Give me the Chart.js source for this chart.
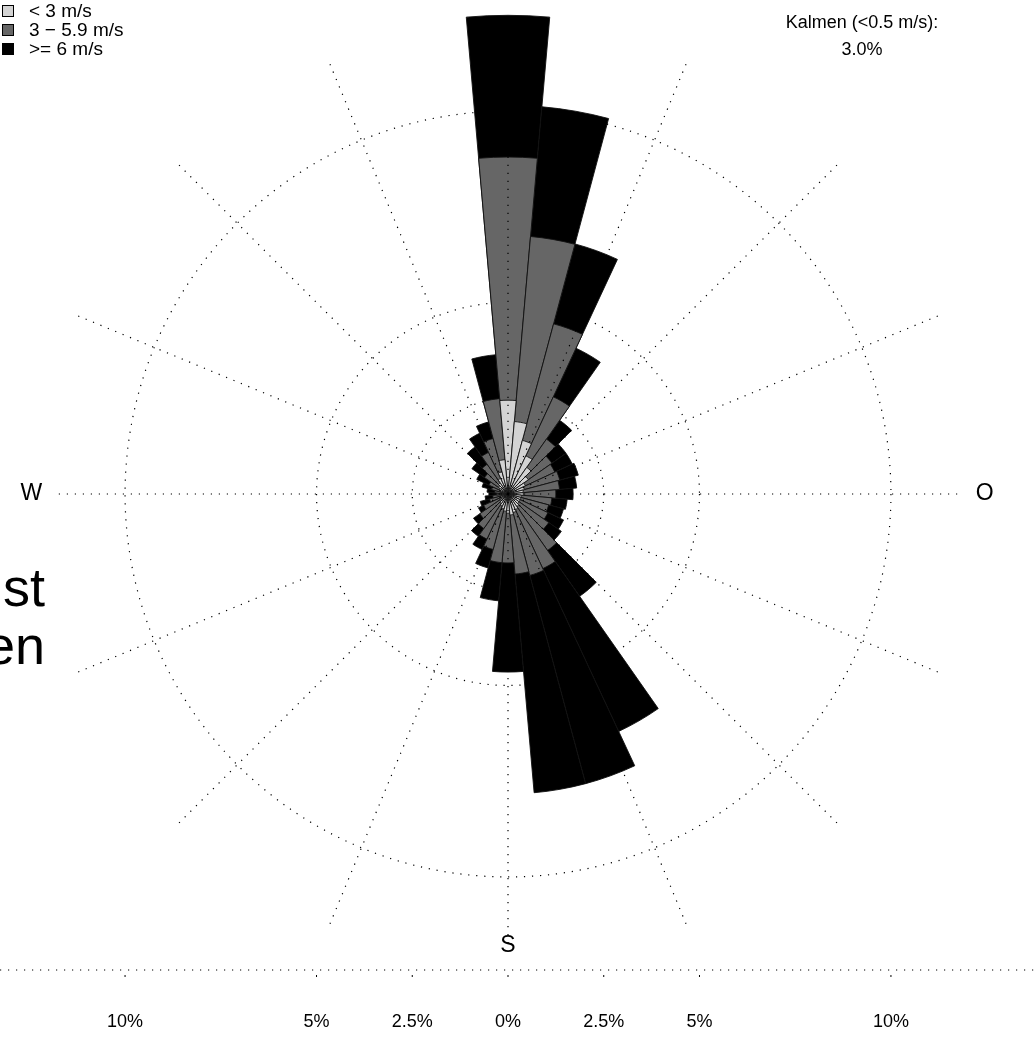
<!DOCTYPE html>
<html>
<head>
<meta charset="utf-8">
<script src="https://cdn.jsdelivr.net/npm/chart.js@4.4.1/dist/chart.umd.min.js"></script>
<style>
  html, body { margin: 0; padding: 0; background: #fff; }
  body { width: 1036px; height: 1060px; position: relative; overflow: hidden; font-family: "Liberation Sans", Arial, sans-serif; color: #000; }
  #wrap { position: absolute; left: 0; top: 0; width: 1036px; height: 1060px; }
  .legend { position: absolute; left: 2px; top: 1px; font-size: 19px; line-height: 19px; }
  .legend .row { display: flex; align-items: center; height: 19px; white-space: pre; }
  .legend .sw { width: 10px; height: 10px; border: 1px solid #000; margin-right: 15px; }
  .calm { position: absolute; left: 742px; width: 240px; top: 9px; text-align: center; font-size: 18px; line-height: 27px; }
  .big { position: absolute; left: -255px; width: 300px; top: 558px; text-align: right; font-size: 54px; line-height: 58px; white-space: pre; }
</style>
</head>
<body>
<div id="wrap"><canvas id="rose"></canvas></div>
<div class="legend" id="legend"></div>
<div class="calm" id="calm"></div>
<div class="big">st
en</div>
<script>
// wind direction sectors, 10 degree wide
const directions = [0, 10, 20, 30, 40, 50, 60, 70, 80, 90, 100, 110, 120, 130, 140, 150, 160, 170,
                    180, 190, 200, 210, 220, 230, 240, 250, 260, 270, 280, 290, 300, 310, 320, 330, 340, 350];

// frequency in % per speed class
const lowSpeed  = [2.45, 1.9, 1.45, 1.1, 0.85, 0.65, 0.5, 0.45, 0.4, 0.4, 0.35, 0.35, 0.35, 0.35, 0.4, 0.45, 0.5, 0.55,
                   0.5, 0.45, 0.4, 0.35, 0.3, 0.25, 0.2, 0.2, 0.15, 0.15, 0.15, 0.2, 0.25, 0.3, 0.35, 0.45, 0.6, 0.9];
const midSpeed  = [6.35, 4.85, 3.15, 1.7, 0.9, 0.75, 0.85, 0.95, 0.95, 0.85, 0.8, 0.75, 0.8, 0.95, 1.4, 1.7, 1.7, 1.55,
                   1.3, 1.35, 1.1, 0.95, 0.8, 0.65, 0.5, 0.3, 0.25, 0.15, 0.2, 0.25, 0.3, 0.45, 0.6, 0.75, 0.9, 1.6];
const highSpeed = [3.7, 3.4, 2.16, 1.4, 0.6, 0.45, 0.5, 0.5, 0.45, 0.45, 0.4, 0.4, 0.45, 0.4, 1.46, 4.69, 5.63, 5.73,
                   2.85, 1.0, 0.5, 0.3, 0.25, 0.2, 0.15, 0.25, 0.2, 0.2, 0.2, 0.25, 0.35, 0.4, 0.55, 0.55, 0.45, 1.15];

const speedClasses = ['< 3 m/s', '3 \u2212 5.9 m/s', '>= 6 m/s'];
const classColors = ['#d3d3d3', '#666666', '#000000'];

const ringTicks = [2.5, 5, 10];
const axisTicks = [0, 2.5, 5, 10];
const compassLabels = ['N', 'O', 'S', 'W'];
const compassAngles = [0, 90, 180, 270];
const calmLabel = 'Kalmen (<0.5 m/s):';
const calmValue = 3.0;

// stacked outwards: each ring starts at the centre and is overdrawn by the slower classes
const cumLow = lowSpeed.slice();
const cumMid = cumLow.map((v, i) => v + midSpeed[i]);
const cumAll = cumMid.map((v, i) => v + highSpeed[i]);

const DOTS = [1.2, 6.8];

const roseDecor = {
    id: 'roseDecor',
    beforeDatasetsDraw(chart) {
        const s = chart.scales.r;
        const ctx = chart.ctx;
        ctx.save();
        ctx.font = '23px "Liberation Sans", Arial, sans-serif';
        ctx.fillStyle = '#000';
        ctx.textAlign = 'center';
        ctx.textBaseline = 'middle';
        compassLabels.forEach((lab, i) => {
            const a = compassAngles[i] * Math.PI / 180;
            const d = s.getDistanceFromCenterForValue(i % 2 ? 12.45 : 11.8);
            ctx.fillText(lab, s.xCenter + d * Math.sin(a), s.yCenter - d * Math.cos(a));
        });
        ctx.restore();
    },
    afterDatasetsDraw(chart) {
        const s = chart.scales.r;
        const ctx = chart.ctx;
        ctx.save();
        ctx.strokeStyle = '#000';
        ctx.lineWidth = 1.2;
        ctx.setLineDash(DOTS);

        // 16 spokes, the four main ones stop short of their letters
        for (let k = 0; k < 16; k++) {
            const a = k * 22.5 * Math.PI / 180;
            const len = s.getDistanceFromCenterForValue(k % 4 ? 12.25 : 11.75);
            ctx.beginPath();
            ctx.moveTo(s.xCenter, s.yCenter);
            ctx.lineTo(s.xCenter + len * Math.sin(a), s.yCenter - len * Math.cos(a));
            ctx.stroke();
        }

        // scale line under the rose
        const yAxis = s.yCenter + 476;
        ctx.beginPath();
        ctx.moveTo(0, yAxis);
        ctx.lineTo(chart.width, yAxis);
        ctx.stroke();

        ctx.setLineDash([]);
        ctx.lineWidth = 1;
        ctx.font = '18px "Liberation Sans", Arial, sans-serif';
        ctx.fillStyle = '#000';
        ctx.textAlign = 'center';
        ctx.textBaseline = 'middle';
        axisTicks.forEach(v => {
            const d = s.getDistanceFromCenterForValue(v);
            const xs = v === 0 ? [s.xCenter] : [s.xCenter - d, s.xCenter + d];
            xs.forEach(x => {
                ctx.beginPath();
                ctx.moveTo(x, yAxis + 5);
                ctx.lineTo(x, yAxis + 7);
                ctx.stroke();
                ctx.fillText(v + '%', x, yAxis + 52);
            });
        });
        ctx.restore();
    }
};

new Chart(document.getElementById('rose'), {
    type: 'polarArea',
    data: {
        labels: directions,
        datasets: [
            { label: speedClasses[0], data: cumLow, backgroundColor: classColors[0] },
            { label: speedClasses[1], data: cumMid, backgroundColor: classColors[1] },
            { label: speedClasses[2], data: cumAll, backgroundColor: classColors[2] }
        ]
    },
    options: {
        responsive: true,
        maintainAspectRatio: false,
        animation: false,
        layout: { padding: { left: 0, top: 0, right: 20, bottom: 72 } },
        elements: { arc: { borderColor: '#111', borderWidth: 0.9 } },
        plugins: { legend: { display: false }, tooltip: { enabled: false } },
        scales: {
            r: {
                min: 0,
                max: 12.9,
                startAngle: -5,
                z: 1,
                ticks: { display: false },
                grid: { color: '#000', lineWidth: 1.2 },
                border: { dash: DOTS },
                angleLines: { display: false },
                afterBuildTicks: axis => { axis.ticks = [0, ...ringTicks].map(v => ({ value: v })); }
            }
        }
    },
    plugins: [roseDecor]
});

// legend and calm note
const legend = document.getElementById('legend');
speedClasses.forEach((name, i) => {
    const row = document.createElement('div');
    row.className = 'row';
    row.innerHTML = `<span class="sw" style="background:${classColors[i]}"></span><span>${name.replace('<', '&lt;')}</span>`;
    legend.appendChild(row);
});
document.getElementById('calm').innerHTML = calmLabel.replace('<', '&lt;') + '<br>' + calmValue.toFixed(1) + '%';
</script>
</body>
</html>
